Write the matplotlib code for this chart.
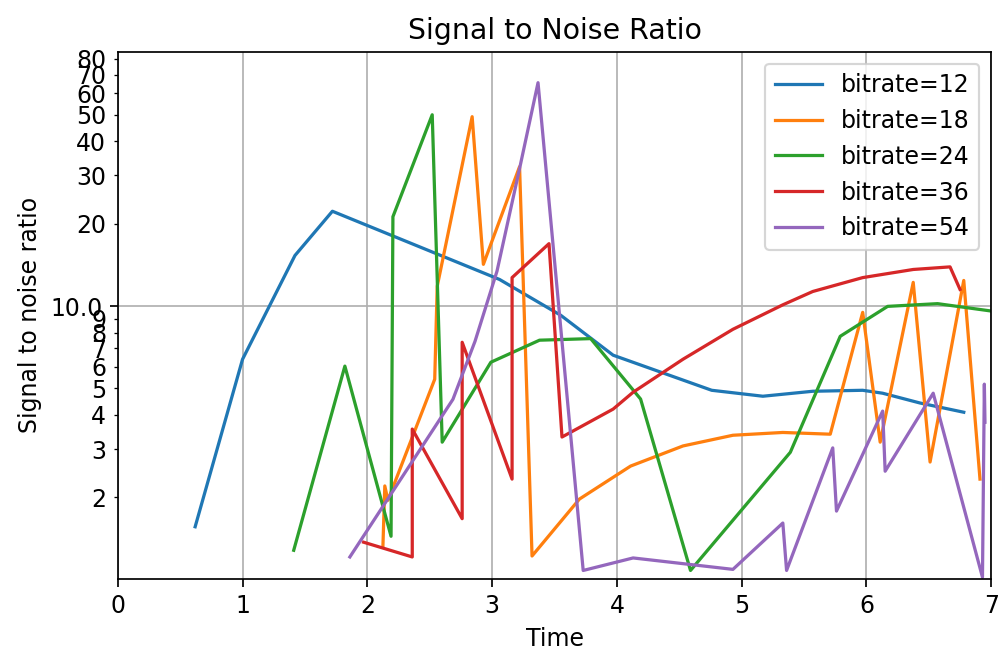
import matplotlib
matplotlib.use("Agg")
import matplotlib.pyplot as plt
from matplotlib.ticker import FormatStrFormatter, LogLocator

# time / snr samples for each bitrate
t_12 = [0.62, 1.00, 1.42, 1.72, 3.06, 3.55, 3.97, 4.76, 5.17, 5.57, 5.97, 6.13, 6.43, 6.78]
snr_12 = [1.56, 6.39, 15.3, 22.2, 12.5, 9.25, 6.61, 4.92, 4.68, 4.88, 4.92, 4.80, 4.42, 4.09]

t_18 = [2.125, 2.14, 2.165, 2.54, 2.56, 2.84, 2.93, 3.22, 3.32, 3.70, 4.11, 4.53, 4.93, 5.33,
        5.71, 5.97, 6.11, 6.375, 6.51, 6.78, 6.91]
snr_18 = [1.33, 2.2, 1.95, 5.4, 11.8, 49.2, 14.2, 32.3, 1.22, 1.97, 2.60, 3.08, 3.37, 3.45,
          3.40, 9.48, 3.18, 12.2, 2.69, 12.4, 2.33]

t_24 = [1.41, 1.82, 2.19, 2.205, 2.52, 2.60, 2.99, 3.38, 3.79, 4.19, 4.59, 5.39, 5.79, 6.17,
        6.57, 6.99]
snr_24 = [1.28, 6.03, 1.44, 21.2, 50.0, 3.18, 6.23, 7.5, 7.6, 4.57, 1.08, 2.92, 7.75, 9.97,
          10.2, 9.6]

t_36 = [1.97, 2.36, 2.36, 2.76, 2.76, 3.16, 3.16, 3.456, 3.56, 3.97, 4.13, 4.53, 4.93, 5.33,
        5.57, 5.97, 6.375, 6.67, 6.75]
snr_36 = [1.37, 1.21, 3.55, 1.67, 7.37, 2.33, 12.7, 16.9, 3.32, 4.2, 4.84, 6.39, 8.22, 10.1,
          11.3, 12.7, 13.6, 13.9, 11.5]

t_54 = [1.86, 2.686, 2.863, 3.039, 3.224, 3.368, 3.73, 4.13, 4.93, 5.33, 5.36, 5.73, 5.76,
        6.13, 6.15, 6.535, 6.93, 6.945, 6.95]
snr_54 = [1.21, 4.56, 7.43, 13.4, 32.4, 65.5, 1.08, 1.20, 1.09, 1.61, 1.08, 3.03, 1.78,
          4.13, 2.49, 4.80, 1.02, 5.18, 3.76]

series = [(t_12, snr_12, "bitrate=12"),
          (t_18, snr_18, "bitrate=18"),
          (t_24, snr_24, "bitrate=24"),
          (t_36, snr_36, "bitrate=36"),
          (t_54, snr_54, "bitrate=54")]

plt.rcParams["font.size"] = 11

fig = plt.figure(figsize=(6.44, 4.226), dpi=155)
ax = fig.add_axes([0.118, 0.116, 0.875, 0.805])

for t, snr, name in series:
    ax.plot(t, snr, label=name)

ax.set_yscale("log")
ax.set_xlim(0, 7)
ax.set_ylim(1.005, 85)

ax.yaxis.set_major_locator(LogLocator(base=10))
ax.yaxis.set_minor_locator(LogLocator(base=10, subs=range(2, 10)))
ax.yaxis.set_major_formatter(FormatStrFormatter("%.1f"))
ax.yaxis.set_minor_formatter(FormatStrFormatter("%d"))

ax.grid(True)
ax.set_title("Signal to Noise Ratio")
ax.set_xlabel("Time")
ax.set_ylabel("Signal to noise ratio")
ax.legend(loc="upper right")

fig.savefig("out.png", dpi=155)
